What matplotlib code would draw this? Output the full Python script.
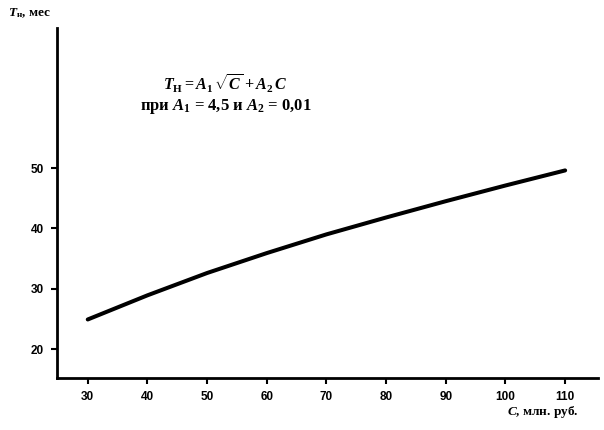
import matplotlib
matplotlib.use("Agg")
import matplotlib.pyplot as plt

# Data
cost = [30, 40, 50, 60, 70, 80, 90, 100, 110]          # C, млн. руб.
term = [24.9, 28.9, 32.6, 35.9, 39.0, 41.8, 44.5, 47.1, 49.6]  # T_н, мес
x_ticks = [30, 40, 50, 60, 70, 80, 90, 100, 110]
y_ticks = [20, 30, 40, 50]

plt.rcParams['mathtext.fontset'] = 'custom'
plt.rcParams['mathtext.rm'] = 'Liberation Serif:bold'
plt.rcParams['mathtext.it'] = 'Liberation Serif:bold:italic'
plt.rcParams['mathtext.bf'] = 'Liberation Serif:bold'

fig = plt.figure(figsize=(6.04, 4.30), dpi=100)
ax = fig.add_axes([0.0939, 0.1209, 0.8961, 0.814])

ax.plot(cost, term, color='black', linewidth=2.9, solid_capstyle='round',
        solid_joinstyle='round')

ax.set_xlim(24.8, 115.5)
ax.set_ylim(15.2, 73.2)
ax.set_xticks(x_ticks)
ax.set_yticks(y_ticks)
ax.set_xticklabels([str(v) for v in x_ticks])
ax.set_yticklabels([str(v) for v in y_ticks])

for s in ['top', 'right']:
    ax.spines[s].set_visible(False)
for s in ['left', 'bottom']:
    ax.spines[s].set_linewidth(2.0)
    ax.spines[s].set_color('black')

ax.tick_params(axis='both', direction='out', length=4, width=1.5,
               colors='black', labelsize=8.5, pad=5)
for lab in ax.get_xticklabels() + ax.get_yticklabels():
    lab.set_fontfamily('Liberation Sans')
    lab.set_fontweight('bold')

# Axis titles
fig.text(8 / 604, 1 - 13 / 430, r'$T_{\mathrm{н}}$, мес', ha='left', va='center',
         fontsize=9.5, fontfamily='Liberation Serif', fontweight='bold')
fig.text(579 / 604, 1 - 412 / 430, r'$C$, млн. руб.', ha='right', va='center',
         fontsize=9.5, fontfamily='Liberation Serif', fontweight='bold')

# Formula annotation
fig.text(225 / 604, 1 - 84 / 430, r'$T_{\mathrm{Н}} = A_1\,\sqrt{C} + A_2\,C$',
         ha='center', va='center', fontsize=11.5, fontfamily='Liberation Serif',
         fontweight='bold')
fig.text(226 / 604, 1 - 107 / 430, r'при $A_1$ = 4,5 и $A_2$ = 0,01',
         ha='center', va='center', fontsize=12, fontfamily='Liberation Serif',
         fontweight='bold')

fig.savefig('out.png', dpi=100)
